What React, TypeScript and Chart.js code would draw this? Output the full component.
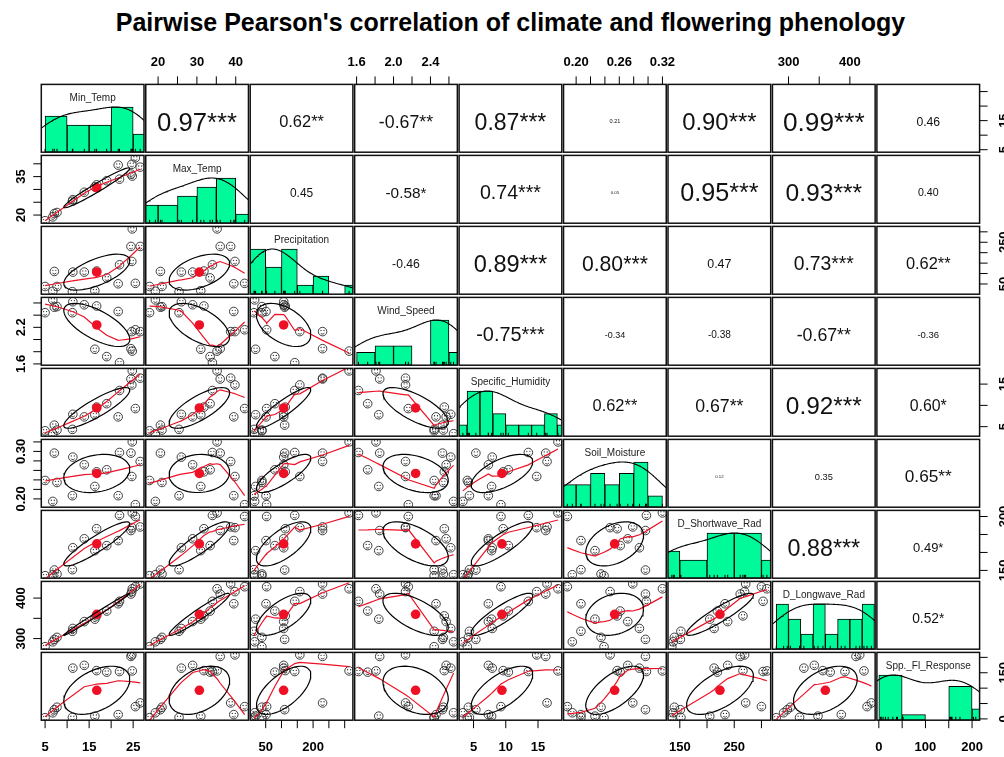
import React, { useEffect, useRef } from 'react';
import { Chart, registerables } from 'chart.js';

Chart.register(...registerables);

// ---------------- data (17 observations) ----------------
const variableNames = [
  'Min_Temp', 'Max_Temp', 'Precipitation', 'Wind_Speed', 'Specific_Humidity',
  'Soil_Moisture', 'D_Shortwave_Rad', 'D_Longwave_Rad', 'Spp._Fl_Response',
];

const minTemp = [5.0, 6.75, 7.1, 7.7, 11.2, 11.3, 13.9, 16.3, 16.7, 19.0, 21.6, 21.9, 24.5, 24.7, 24.8, 25.5, 26.6];
const maxTemp = [17.8, 19.3, 20.6, 21.0, 25.4, 26.0, 28.9, 31.0, 31.8, 33.4, 39.5, 34.0, 36.0, 39.8, 35.2, 42.3, 38.7];
const precipitation = [38, 15, 110, 38, 13, 107, 107, 18, 112, 79, 51, 142, 230, 158, 314, 53, 230];
const windSpeed = [2.44, 2.65, 2.53, 2.54, 2.44, 2.62, 2.57, 1.84, 2.55, 1.72, 2.46, 1.62, 1.85, 2.13, 1.81, 2.16, 2.13];
const specificHumidity = [4.03, 3.35, 5.36, 4.2, 4.36, 7.9, 7.3, 7.8, 9.6, 10.4, 7.3, 13.5, 16.2, 14.8, 18.1, 9.25, 16.4];
const soilMoisture = [0.2388, 0.1947, 0.2964, 0.2346, 0.2067, 0.288, 0.2718, 0.2262, 0.257, 0.2613, 0.2067, 0.2977, 0.2964, 0.2472, 0.32, 0.1878, 0.2787];
const shortwaveRad = [135.3, 138, 151, 140, 152, 213, 238, 205, 266, 219, 233, 303, 261, 269, 310, 300, 271];
const longwaveRad = [280, 292, 298, 303, 318, 325, 342, 348, 356, 368, 386, 392, 410, 416, 423, 428, 435];
const floweringResponse = [4, 20, 30, 38, 5, 165, 174, 9, 157, 152, 14, 154, 203, 208, 156, 40, 52];

const DATA = [minTemp, maxTemp, precipitation, windSpeed, specificHumidity, soilMoisture, shortwaveRad, longwaveRad, floweringResponse];

// histogram breaks
const minTempBreaks = [5, 10, 15, 20, 25, 30];
const maxTempBreaks = [15, 20, 25, 30, 35, 40, 45];
const precipitationBreaks = [0, 50, 100, 150, 200, 250, 300, 350];
const windSpeedBreaks = [1.6, 1.8, 2.0, 2.2, 2.4, 2.6, 2.8];
const humidityBreaks = [2, 4, 6, 8, 10, 12, 14, 16, 18, 20];
const soilBreaks = [0.18, 0.2, 0.22, 0.24, 0.26, 0.28, 0.3, 0.32];
const shortwaveBreaks = [100, 150, 200, 250, 300, 350];
const longwaveBreaks = [280, 300, 320, 340, 360, 380, 400, 420, 440];
const responseBreaks = [0, 50, 100, 150, 200, 250];
const BREAKS = [minTempBreaks, maxTempBreaks, precipitationBreaks, windSpeedBreaks, humidityBreaks, soilBreaks, shortwaveBreaks, longwaveBreaks, responseBreaks];

// axis ticks
const minTempTicks = [5, 10, 15, 20, 25];
const maxTempTicks = [20, 25, 30, 35, 40];
const precipitationTicks = [50, 100, 150, 200, 250, 300];
const windSpeedTicks = [1.6, 1.8, 2.0, 2.2, 2.4, 2.6];
const humidityTicks = [5, 10, 15];
const soilTicks = [0.2, 0.22, 0.24, 0.26, 0.28, 0.3, 0.32];
const shortwaveTicks = [150, 200, 250, 300];
const longwaveTicks = [300, 350, 400];
const responseTicks = [0, 50, 100, 150, 200];
const TICKS = [minTempTicks, maxTempTicks, precipitationTicks, windSpeedTicks, humidityTicks, soilTicks, shortwaveTicks, longwaveTicks, responseTicks];

// labelled ticks on horizontal (top/bottom) and vertical (left/right) axes
const horizontalLabels = [[5, 15, 25], [20, 30, 40], [50, 200], [1.6, 2.0, 2.4], [5, 10, 15], [0.2, 0.26, 0.32], [150, 250], [300, 400], [0, 100, 200]];
const verticalLabels = [[5, 15], [20, 35], [50, 250], [1.6, 2.2], [5, 15], [0.2, 0.3], [150, 300], [300, 400], [0, 150]];

// correlation texts of the upper panels (row by row)
const correlationLabels = [
  ['0.97***', '0.62**', '-0.67**', '0.87***', '0.21', '0.90***', '0.99***', '0.46'],
  ['0.45', '-0.58*', '0.74***', '0.05', '0.95***', '0.93***', '0.40'],
  ['-0.46', '0.89***', '0.80***', '0.47', '0.73***', '0.62**'],
  ['-0.75***', '-0.34', '-0.38', '-0.67**', '-0.36'],
  ['0.62**', '0.67**', '0.92***', '0.60*'],
  ['0.12', '0.35', '0.65**'],
  ['0.88***', '0.49*'],
  ['0.52*'],
];

const TITLE = "Pairwise Pearson's correlation of climate and flowering phenology";

// ---------------- layout / style ----------------
const X0 = 41.3, PITCH_X = 104.45, PW = 102.7;
const Y0 = 84.4, PITCH_Y = 71.0, PH = 67.8;
const GREEN = '#00FA9A';
const RED = '#EE1126';
const SMILEY = '#2a2a2a';
const FONT = '"Liberation Sans", Arial, Helvetica, sans-serif';

// ---------------- statistics helpers ----------------
const mean = (v: number[]) => v.reduce((a, b) => a + b, 0) / v.length;
const sd = (v: number[]) => {
  const m = mean(v);
  return Math.sqrt(v.reduce((a, b) => a + (b - m) * (b - m), 0) / (v.length - 1));
};
const cor = (x: number[], y: number[]) => {
  const mx = mean(x), my = mean(y);
  let sxy = 0, sxx = 0, syy = 0;
  for (let i = 0; i < x.length; i++) {
    sxy += (x[i] - mx) * (y[i] - my);
    sxx += (x[i] - mx) ** 2;
    syy += (y[i] - my) ** 2;
  }
  return sxy / Math.sqrt(sxx * syy);
};
const paddedRange = (v: number[]) => {
  const lo = Math.min(...v), hi = Math.max(...v);
  const e = 0.04 * (hi - lo);
  return [lo - e, hi + e];
};
const quantile7 = (v: number[], p: number) => {
  const s = [...v].sort((a, b) => a - b);
  const h = (s.length - 1) * p;
  const lo = Math.floor(h);
  return s[lo] + (h - lo) * ((s[Math.min(lo + 1, s.length - 1)]) - s[lo]);
};

function ellipsePoints(xv: number[], yv: number[]) {
  const xm = mean(xv), ym = mean(yv), xs = sd(xv), ys = sd(yv), r = cor(xv, yv);
  const theta = (r === 0 ? 1 : Math.sign(r)) / Math.SQRT2;
  const a = Math.sqrt(1 + r), b = Math.sqrt(1 - r);
  const pts: { x: number; y: number }[] = [];
  const seg = 51;
  for (let k = 0; k <= seg; k++) {
    const ang = (k * 2 * Math.PI) / seg;
    const c = Math.cos(ang), s = Math.sin(ang);
    const ex = c * a * theta - s * b * theta;
    const ey = c * a * theta + s * b * theta;
    pts.push({ x: ex * xs + xm, y: ey * ys + ym });
  }
  return pts;
}

function lowest(xs: number[], ys: number[], xi: number, nleft: number, nright: number, rw: number[], userw: boolean, range: number) {
  const n = xs.length;
  const h = Math.max(xi - xs[nleft], xs[nright] - xi);
  const h9 = 0.999 * h, h1 = 0.001 * h;
  const w = new Array(n).fill(0);
  let a = 0;
  let j = nleft;
  while (j < n) {
    const rr = Math.abs(xs[j] - xi);
    if (rr <= h9) {
      w[j] = rr <= h1 ? 1 : (1 - (rr / h) ** 3) ** 3;
      if (userw) w[j] *= rw[j];
      a += w[j];
    } else if (xs[j] > xi) break;
    j++;
  }
  const nrt = j - 1;
  if (a <= 0) return null;
  for (let k = nleft; k <= nrt; k++) w[k] /= a;
  if (h > 0) {
    let aa = 0;
    for (let k = nleft; k <= nrt; k++) aa += w[k] * xs[k];
    let b = xi - aa;
    let c = 0;
    for (let k = nleft; k <= nrt; k++) c += w[k] * (xs[k] - aa) ** 2;
    if (Math.sqrt(c) > 0.001 * range) {
      b /= c;
      for (let k = nleft; k <= nrt; k++) w[k] *= b * (xs[k] - aa) + 1;
    }
  }
  let out = 0;
  for (let k = nleft; k <= nrt; k++) out += w[k] * ys[k];
  return out;
}

function lowess(x: number[], y: number[], f = 2 / 3, iter = 3) {
  const n = x.length;
  const order = x.map((_, i) => i).sort((a, b) => x[a] - x[b]);
  const xs = order.map((i) => x[i]);
  const yo = order.map((i) => y[i]);
  const ns = Math.max(2, Math.min(n, Math.floor(f * n + 1e-7)));
  const range = xs[n - 1] - xs[0];
  let rw = new Array(n).fill(1);
  const fit = new Array(n).fill(0);
  for (let it = 1; it <= iter + 1; it++) {
    let nleft = 0, nright = ns - 1;
    for (let i = 0; i < n; i++) {
      while (nright < n - 1) {
        const d1 = xs[i] - xs[nleft], d2 = xs[nright + 1] - xs[i];
        if (d1 <= d2) break;
        nleft++;
        nright++;
      }
      const v = lowest(xs, yo, xs[i], nleft, nright, rw, it > 1, range);
      fit[i] = v === null ? yo[i] : v;
    }
    if (it > iter) break;
    const res = yo.map((v, i) => v - fit[i]);
    const absr = res.map(Math.abs).sort((a, b) => a - b);
    const m1 = Math.floor(n / 2);
    const med = n % 2 === 0 ? (absr[m1 - 1] + absr[m1]) / 2 : absr[m1];
    const cmad = 6 * med;
    if (cmad < 1e-7 * mean(yo.map(Math.abs))) break;
    rw = res.map((rr) => {
      const aa = Math.abs(rr);
      if (aa <= 0.001 * cmad) return 1;
      if (aa <= 0.999 * cmad) return (1 - (aa / cmad) ** 2) ** 2;
      return 0;
    });
  }
  return xs.map((v, i) => ({ x: v, y: fit[i] }));
}

function densityCurve(v: number[]) {
  const n = v.length;
  const iqr = (quantile7(v, 0.75) - quantile7(v, 0.25)) / 1.34;
  const bw = 1.06 * Math.min(sd(v), iqr) * Math.pow(n, -0.2) * 1.2;
  const lo = Math.min(...v) - 3 * bw, hi = Math.max(...v) + 3 * bw;
  const pts: { x: number; y: number }[] = [];
  const m = 240;
  for (let k = 0; k <= m; k++) {
    const x = lo + ((hi - lo) * k) / m;
    let s = 0;
    for (const d of v) s += Math.exp(-0.5 * ((x - d) / bw) ** 2);
    pts.push({ x, y: s });
  }
  const mx = Math.max(...pts.map((p) => p.y));
  return pts.map((p) => ({ x: p.x, y: p.y / mx }));
}

function histogramBars(v: number[], breaks: number[]) {
  const counts = new Array(breaks.length - 1).fill(0);
  for (const d of v) {
    for (let k = 0; k < breaks.length - 1; k++) {
      const inBin = k === 0 ? d >= breaks[0] - 1e-9 && d <= breaks[1] + 1e-9 : d > breaks[k] + 1e-9 && d <= breaks[k + 1] + 1e-9;
      if (inBin) { counts[k]++; break; }
    }
  }
  const mx = Math.max(...counts);
  return counts.map((c, k) => ({ x: (breaks[k] + breaks[k + 1]) / 2, y: c / mx }));
}

const fmtTick = (vi: number, t: number) => (vi === 5 ? t.toFixed(2) : vi === 3 ? t.toFixed(1) : String(t));
const hasLabel = (list: number[], t: number) => list.some((v) => Math.abs(v - t) < 1e-9);

// ---------------- geometry ----------------
function panelGeometry(r: number, c: number) {
  const left = X0 + c * PITCH_X, top = Y0 + r * PITCH_Y;
  const right = left + PW, bottom = top + PH;
  const axisTop = r === 0 && c % 2 === 1;
  const axisBottom = r === 8 && c % 2 === 0;
  const axisLeft = c === 0 && r % 2 === 1;
  const axisRight = c === 8 && r % 2 === 0;
  const horiz = axisTop || axisBottom;
  const vert = axisLeft || axisRight;
  const cl = axisLeft ? 0 : Math.max(0, Math.floor(left - (horiz ? 24 : 3)));
  const ct = axisTop ? 40 : Math.max(0, Math.floor(top - (vert ? 18 : 3)));
  const cr = axisRight ? 1004 : Math.min(1004, Math.ceil(right + (horiz ? 24 : 3)));
  const cb = axisBottom ? 757 : Math.min(757, Math.ceil(bottom + (vert ? 18 : 3)));
  return {
    cl, ct, cw: cr - cl, ch: cb - ct,
    padding: { left: left - cl, top: top - ct, right: cr - right, bottom: cb - bottom },
    axisTop, axisBottom, axisLeft, axisRight,
  };
}

function buildConfig(r: number, c: number): any {
  const g = panelGeometry(r, c);
  const xv = DATA[c], yv = DATA[r];
  const [xlo, xhi] = paddedRange(xv);
  const [ylo, yhi] = paddedRange(yv);
  const SMILEY_INDEX = 3;

  const decor = {
    id: 'panelDecor',
    afterDatasetDraw(chart: any, args: any) {
      if (!(r > c && args.index === SMILEY_INDEX)) return;
      const ctx: CanvasRenderingContext2D = chart.ctx;
      const ca = chart.chartArea;
      ctx.save();
      ctx.beginPath();
      ctx.rect(ca.left, ca.top, ca.right - ca.left, ca.bottom - ca.top);
      ctx.clip();
      ctx.fillStyle = SMILEY;
      ctx.strokeStyle = SMILEY;
      ctx.lineWidth = 0.85;
      for (const p of args.meta.data) {
        ctx.beginPath(); ctx.arc(p.x - 1.5, p.y - 1.15, 0.65, 0, Math.PI * 2); ctx.fill();
        ctx.beginPath(); ctx.arc(p.x + 1.5, p.y - 1.15, 0.65, 0, Math.PI * 2); ctx.fill();
        ctx.beginPath(); ctx.arc(p.x, p.y + 0.1, 2.4, 0.2 * Math.PI, 0.8 * Math.PI); ctx.stroke();
      }
      ctx.restore();
    },
    afterDatasetsDraw(chart: any) {
      const ctx: CanvasRenderingContext2D = chart.ctx;
      const ca = chart.chartArea;
      const xs = chart.scales.x;
      const ys = r === c ? chart.scales.yAxis : chart.scales.y;
      ctx.save();
      ctx.fillStyle = '#111';
      if (r < c) {
        const label = correlationLabels[r][c - r - 1];
        const size = Math.max(4.3, 26.5 * Math.abs(parseFloat(label)));
        ctx.font = `${size}px ${FONT}`;
        ctx.textAlign = 'center';
        ctx.textBaseline = 'alphabetic';
        const cx = (ca.left + ca.right) / 2;
        const cy = (ca.top + ca.bottom) / 2 + 3;
        ctx.fillText(label, cx, cy + 0.358 * size);
      }
      if (r === c) {
        ctx.font = `10px ${FONT}`;
        ctx.fillStyle = '#222';
        ctx.textAlign = 'center';
        ctx.textBaseline = 'alphabetic';
        ctx.fillText(variableNames[r], (ca.left + ca.right) / 2, ca.top + 16.2);
      }
      // panel box
      ctx.strokeStyle = '#111';
      ctx.lineWidth = 1.5;
      ctx.strokeRect(ca.left, ca.top, ca.right - ca.left, ca.bottom - ca.top);
      // axes
      ctx.lineWidth = 1;
      ctx.strokeStyle = '#000';
      ctx.fillStyle = '#000';
      ctx.font = `bold 13px ${FONT}`;
      ctx.textAlign = 'center';
      ctx.textBaseline = 'alphabetic';
      const tl = 8;
      if (g.axisTop || g.axisBottom) {
        for (const t of TICKS[c]) {
          const px = xs.getPixelForValue(t);
          ctx.beginPath();
          if (g.axisTop) { ctx.moveTo(px, ca.top); ctx.lineTo(px, ca.top - tl); }
          else { ctx.moveTo(px, ca.bottom); ctx.lineTo(px, ca.bottom + tl); }
          ctx.stroke();
          if (hasLabel(horizontalLabels[c], t)) {
            const cy = g.axisTop ? ca.top - 23.1 : ca.bottom + 26.3;
            ctx.fillText(fmtTick(c, t), px, cy + 0.358 * 13);
          }
        }
      }
      if (g.axisLeft || g.axisRight) {
        for (const t of TICKS[r]) {
          const py = ys.getPixelForValue(t);
          ctx.beginPath();
          if (g.axisLeft) { ctx.moveTo(ca.left, py); ctx.lineTo(ca.left - tl, py); }
          else { ctx.moveTo(ca.right, py); ctx.lineTo(ca.right + tl, py); }
          ctx.stroke();
          if (hasLabel(verticalLabels[r], t)) {
            const cx = g.axisLeft ? ca.left - 21.3 : ca.right + 23.4;
            ctx.save();
            ctx.translate(cx, py);
            ctx.rotate(-Math.PI / 2);
            ctx.fillText(fmtTick(r, t), 0, 0.358 * 13);
            ctx.restore();
          }
        }
      }
      ctx.restore();
    },
  };

  const base: any = {
    options: {
      animation: false,
      responsive: false,
      devicePixelRatio: 1,
      events: [],
      layout: { padding: g.padding, autoPadding: false },
      plugins: { legend: { display: false }, tooltip: { enabled: false }, title: { display: false } },
      scales: {
        x: { type: 'linear', display: false, min: xlo, max: xhi, offset: false },
        y: { type: 'linear', display: false, min: ylo, max: yhi },
      },
    },
    plugins: [decor],
  };

  if (r < c) {
    return { ...base, type: 'scatter', data: { datasets: [] } };
  }

  if (r === c) {
    const breaks = BREAKS[c];
    const bars = histogramBars(xv, breaks);
    const dens = densityCurve(xv);
    const rugY = (1.5 * 1.7) / PH;
    const rug = xv.map((x) => ({ x, y: rugY }));
    base.options.scales = {
      x: {
        type: 'linear', display: false, min: xlo, max: xhi, offset: false,
        afterBuildTicks: (s: any) => { s.ticks = breaks.map((v) => ({ value: v })); },
      },
      y: { type: 'linear', display: false, min: 0, max: 1.5 },
      yAxis: { type: 'linear', display: false, min: xlo, max: xhi, position: 'right' },
    };
    return {
      ...base,
      type: 'bar',
      data: {
        datasets: [
          { type: 'scatter', data: rug, pointStyle: 'line', rotation: 90, pointRadius: 1.7, borderColor: '#000', borderWidth: 1, clip: 0 },
          { type: 'line', data: dens, borderColor: '#000', borderWidth: 1.1, pointRadius: 0, tension: 0, fill: false, clip: 0 },
          {
            type: 'bar', data: bars, backgroundColor: GREEN, borderColor: '#000', borderWidth: 1,
            borderSkipped: false, barPercentage: 1, categoryPercentage: 1, clip: 0,
          },
        ],
      },
    };
  }

  const pts = xv.map((x, k) => ({ x, y: yv[k] }));
  return {
    ...base,
    type: 'scatter',
    data: {
      datasets: [
        { type: 'line', data: ellipsePoints(xv, yv), borderColor: '#000', borderWidth: 1.2, pointRadius: 0, tension: 0, fill: false, clip: 0 },
        { type: 'scatter', data: [{ x: mean(xv), y: mean(yv) }], pointStyle: 'circle', pointRadius: 4.8, backgroundColor: RED, borderWidth: 0, clip: 0 },
        { type: 'line', data: lowess(xv, yv), borderColor: RED, borderWidth: 1.2, pointRadius: 0, tension: 0, fill: false, clip: 0 },
        {
          type: 'scatter', data: pts, pointStyle: 'circle', pointRadius: 4.3,
          backgroundColor: 'rgba(0,0,0,0)', borderColor: SMILEY, borderWidth: 0.9, clip: 0,
        },
      ],
    },
  };
}

function Panel({ r, c }: { r: number; c: number }) {
  const ref = useRef<HTMLCanvasElement>(null);
  const g = panelGeometry(r, c);
  useEffect(() => {
    if (!ref.current) return;
    const chart = new Chart(ref.current, buildConfig(r, c));
    return () => chart.destroy();
  }, [r, c]);
  return (
    <canvas
      ref={ref}
      width={g.cw}
      height={g.ch}
      style={{ position: 'absolute', left: g.cl, top: g.ct, width: g.cw, height: g.ch }}
    />
  );
}

export default function App() {
  const panels: React.ReactNode[] = [];
  for (let r = 0; r < 9; r++) {
    for (let c = 0; c < 9; c++) panels.push(<Panel key={`${r}-${c}`} r={r} c={c} />);
  }
  return (
    <div style={{ position: 'absolute', left: 0, top: 0, width: 1004, height: 757, background: '#fff', overflow: 'hidden' }}>
      <div
        style={{
          position: 'absolute', left: 0, top: 7.8, width: 1021, textAlign: 'center',
          font: `bold 25px ${FONT}`, lineHeight: '28px', color: '#000', whiteSpace: 'nowrap',
        }}
      >
        {TITLE}
      </div>
      {panels}
    </div>
  );
}
